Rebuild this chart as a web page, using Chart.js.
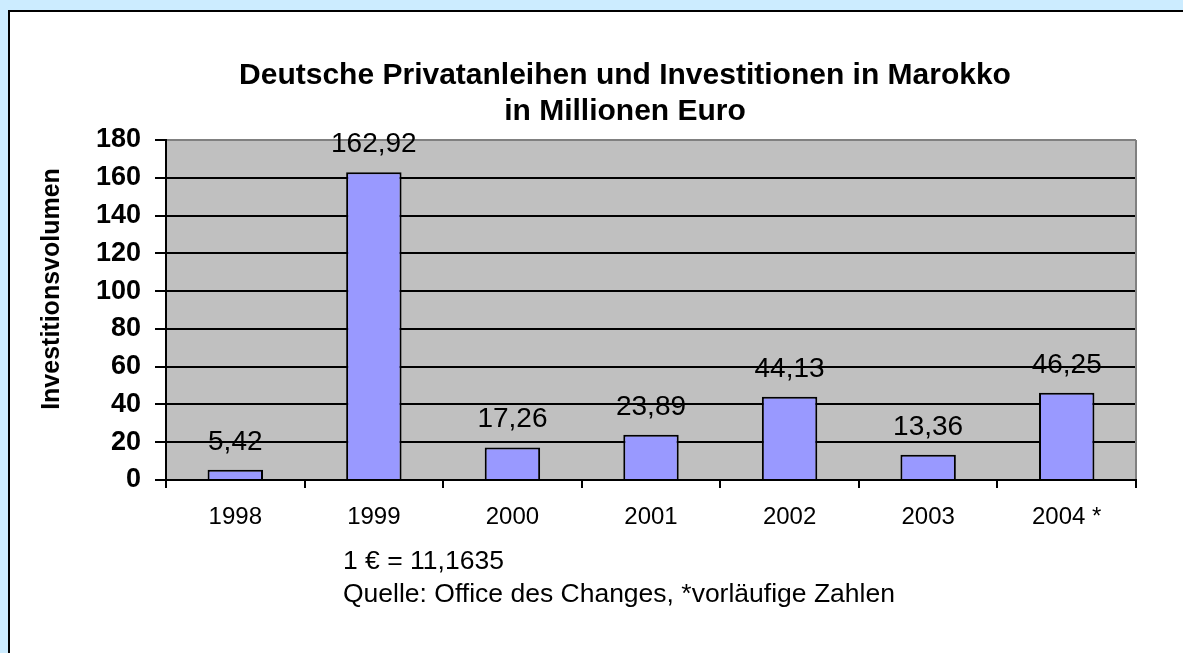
<!DOCTYPE html>
<html>
<head>
<meta charset="utf-8">
<script src="https://cdn.jsdelivr.net/npm/chart.js@4.4.1/dist/chart.umd.min.js"></script>
<style>
  body{margin:0;background:#CCECFF;overflow:hidden;font-family:Arial,"Liberation Sans",sans-serif;}
  #panel{position:absolute;left:8px;top:10px;width:1300px;height:800px;background:#fff;border:2px solid #000;box-sizing:border-box;}
  #chart{position:absolute;left:0;top:0;}
</style>
</head>
<body>
<div id="panel"></div>
<canvas id="chart" width="1183" height="653"></canvas>
<script>
// ===== DATA =====
const years = ["1998","1999","2000","2001","2002","2003","2004 *"];
const volumes = [5.42, 162.92, 17.26, 23.89, 44.13, 13.36, 46.25];
const yTicks = [0,20,40,60,80,100,120,140,160,180];
const titleLines = ["Deutsche Privatanleihen und Investitionen in Marokko","in Millionen Euro"];
const yTitle = "Investitionsvolumen";
const notes = ["1 € = 11,1635","Quelle: Office des Changes, *vorläufige Zahlen"];

const FONT = 'Arial, "Liberation Sans", sans-serif';

function fmt(v){ return v.toFixed(2).replace(".", ","); }

// gray plot area + right border
const plotBg = {
  id:"plotBg",
  beforeDraw(c){
    const a=c.chartArea, ctx=c.ctx;
    ctx.save();
    ctx.fillStyle="#C0C0C0";
    ctx.fillRect(a.left,a.top,a.right-a.left,a.bottom-a.top);
    ctx.restore();
  },
  afterDatasetsDraw(c){
    const a=c.chartArea, ctx=c.ctx;
    ctx.save();
    ctx.strokeStyle="#808080";
    ctx.lineWidth=2;
    ctx.beginPath();
    ctx.moveTo(a.right,a.top);
    ctx.lineTo(a.right,a.bottom-1);
    ctx.stroke();
    ctx.restore();
  }
};

// title, value labels, axis title, footnotes
const extras = {
  id:"extras",
  afterDatasetsDraw(c){
    const ctx=c.ctx;
    ctx.save();
    ctx.fillStyle="#000";

    // title
    ctx.font="bold 30px "+FONT;
    ctx.textAlign="center";
    ctx.textBaseline="alphabetic";
    ctx.fillText(titleLines[0],625,84);
    ctx.fillText(titleLines[1],625,120);

    // bar values
    ctx.font="28px "+FONT;
    c.getDatasetMeta(0).data.forEach((bar,i)=>{
      ctx.fillText(fmt(volumes[i]), bar.x, bar.y-20);
    });

    // y axis title
    ctx.font="bold 25px "+FONT;
    ctx.translate(52,289);
    ctx.rotate(-Math.PI/2);
    ctx.textBaseline="middle";
    ctx.fillText(yTitle,0,0);
    ctx.setTransform(1,0,0,1,0,0);

    // notes
    ctx.font="26.5px "+FONT;
    ctx.textAlign="left";
    ctx.textBaseline="alphabetic";
    ctx.fillText(notes[0],343,569);
    ctx.fillText(notes[1],343,602);
    ctx.restore();
  }
};

new Chart(document.getElementById("chart"),{
  type:"bar",
  data:{
    labels:years,
    datasets:[{
      data:volumes,
      backgroundColor:"#9999FF",
      borderColor:"#000",
      borderWidth:2,
      barPercentage:0.4,
      categoryPercentage:1
    }]
  },
  options:{
    responsive:false,
    animation:false,
    events:[],
    layout:{padding:{left:0,right:47,bottom:93,top:140}},
    plugins:{
      legend:{display:false},
      tooltip:{enabled:false},
      title:{display:false}
    },
    scales:{
      x:{
        offset:true,
        afterFit(s){ s.height=80; },
        grid:{offset:true,drawOnChartArea:false,drawTicks:true,tickLength:8,tickColor:"#000",lineWidth:2},
        border:{display:true,color:"#000",width:2},
        ticks:{color:"#000",padding:15,font:{family:FONT,size:24}}
      },
      y:{
        min:0,max:180,
        afterFit(s){ s.width=166; },
        afterBuildTicks(s){ s.ticks=yTicks.map(v=>({value:v})); },
        grid:{
          color:ctx=>ctx.tick && ctx.tick.value===180 ? "#808080" : "#000",
          lineWidth:2,tickLength:11,tickColor:"#000"
        },
        border:{display:true,color:"#000",width:2},
        ticks:{color:"#000",padding:14,font:{family:FONT,size:27,weight:"bold"}}
      }
    }
  },
  plugins:[plotBg,extras]
});
</script>
</body>
</html>
